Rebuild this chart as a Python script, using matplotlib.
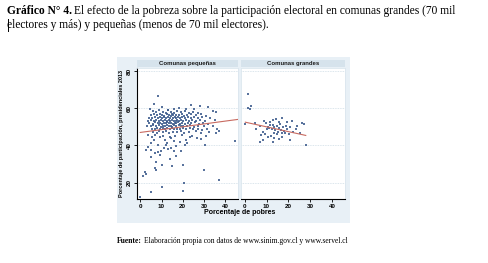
import numpy as np
import matplotlib
matplotlib.use('Agg')
import matplotlib.pyplot as plt
from matplotlib.patches import Rectangle
from matplotlib.lines import Line2D

# Data: (porcentaje de pobres, participacion 2013)
small_x = [6, 7.5, 9, 10.5, 12, 13, 14.5, 16, 17.5, 19, 21, 23, 25, 27,
           5, 6.5, 8, 9.2, 10, 11.3, 12.5, 13.6, 14.8, 15.6, 16.8, 18, 19.4, 20.5, 22, 24, 26, 28.5, 31,
           4, 5.5, 7, 8.3, 9.5, 10.4, 11.2, 12, 12.9, 13.8, 14.6, 15.3, 16.2, 17, 17.9, 18.8, 19.7, 21, 22.4, 23.8, 25.2, 27, 29, 33,
           3.5, 5, 6.4, 7.6, 8.8, 9.8, 10.7, 11.6, 12.4, 13.3, 14.1, 15, 15.8, 16.6, 17.4, 18.3, 19.2, 20.1, 21.4, 23, 24.5, 26.2, 28, 30.5, 35,
           4.2, 5.8, 7.1, 8.2, 9.3, 10.2, 11, 11.9, 12.7, 13.5, 14.4, 15.2, 16.1, 16.9, 17.8, 18.7, 19.8, 21, 22.5, 24, 25.8, 27.5, 29.5, 32,
           3, 4.8, 6.2, 7.5, 8.6, 9.7, 10.8, 11.7, 12.6, 13.4, 14.3, 15.1, 16, 17, 18, 19.1, 20.3, 21.8, 23.5, 25.3, 27.2, 30, 34,
           5.3, 6.8, 8, 9.4, 10.5, 11.5, 12.8, 13.9, 14.9, 16, 17.2, 18.5, 19.9, 21.5, 23.2, 25, 27, 29.2, 31.5, 36,
           6, 7.8, 9, 10.9, 12.3, 13.7, 15.5, 17.3, 19, 20.7, 22.8, 26, 28.5, 32.5, 35.5, 37,
           8.3, 6.4, 4.7, 15.7, 23.7, 28, 31.7, 34.3, 35.8, 21.7, 10, 18, 25.5, 13,
           5.7, 6.3, 9.1, 11.5, 13.8, 15.7, 21.7, 23.3, 4.9, 8.3, 12.3, 17, 20.9, 30.3, 44.8,
           2.8, 5.2, 8.3, 9.9, 13, 14.5, 5.2, 9.1, 13.8, 7.5, 17, 2, 1.3, 2.7, 7.5, 15.1, 20.1, 30,
           37.1, 20.6, 10.2, 5.2, 20.1, -0.3, 10.2, 7.1,
           3.5, 7, 10.5, 12.8, 14.5, 16.5, 18.5, 19.5, 22, 24.5, 26.5, 28.5, 31, 11, 16, 19, 3.8, 6.8]
small_y = [58.5, 57.8, 58.9, 58.2, 57.6, 58.8, 58, 57.5, 58.4, 57.9, 58.6, 57.4, 58.1, 57.3,
           56.4, 56.9, 56.2, 57, 56.5, 56, 56.8, 56.3, 56.9, 56.1, 56.6, 56.2, 56.8, 56, 56.5, 56.9, 56.2, 56.7, 56,
           55, 54.6, 55.3, 54.8, 55.5, 54.7, 55.2, 54.5, 55.4, 54.9, 55.6, 54.6, 55.1, 54.7, 55.5, 54.9, 55.3, 54.6, 55.2, 54.8, 55.4, 54.6, 55.1, 54.8,
           53.4, 53.8, 53.1, 53.7, 53.2, 53.9, 53.3, 53.8, 53, 53.6, 53.2, 53.9, 53.4, 53, 53.7, 53.3, 53.8, 53.1, 53.6, 53.2, 53.8, 53.1, 53.5, 53.2, 53.6,
           52.1, 51.7, 52.4, 51.9, 52.3, 51.6, 52.2, 51.8, 52.5, 51.9, 52.3, 51.5, 52.1, 51.8, 52.4, 51.7, 52.2, 51.6, 52.3, 51.9, 52.4, 51.5, 52, 51.7,
           50.6, 50.2, 50.9, 50.4, 50.8, 50.1, 50.7, 50.3, 50.9, 50.2, 50.6, 50.1, 50.8, 50.4, 50.9, 50.3, 50.7, 50.2, 50.8, 50.1, 50.6, 50.3, 50.7,
           49, 48.6, 49.3, 48.8, 49.4, 48.7, 49.2, 48.6, 49.3, 48.9, 49.1, 48.6, 49.2, 48.8, 49.4, 48.7, 49.1, 48.5, 49, 48.8,
           47.4, 46.9, 47.7, 47.1, 47.8, 46.8, 47.5, 47, 47.6, 46.7, 47.3, 47.8, 46.9, 47.4, 46.6, 47.9,
           66.4, 62.1, 59.8, 59.8, 61.6, 61, 60.4, 58.6, 58, 59.8, 60.5, 60.2, 59.4, 59.3,
           44.6, 42.9, 44.6, 42.9, 44.6, 42.5, 42.9, 44.6, 41.1, 40.2, 40.2, 39.6, 40.2, 40.2, 42.2,
           37.5, 37.5, 36.6, 37.1, 37.9, 38.5, 33.9, 34.8, 33, 31.2, 34.5, 25.9, 23.6, 24.6, 27.1, 28.9, 29.5, 26.8,
           21.4, 20, 17.9, 15.2, 15.5, 12.5, 29.4, 27.9,
           45.5, 45.8, 45.2, 41.5, 43.8, 44.9, 41.8, 45.6, 41.2, 45.3, 44.2, 43.5, 45, 38.6, 37.2, 36.8, 39.3, 35.8]

large_x = [1.7, 3, 1.7, 2.3, 0.3, 5.3, 6.8, 8.3, 9.9, 10.6, 13, 14.2, 17.3, 19.4, 21.5, 26.1, 27.1,
           7.6, 8.3, 7.1, 13, 13.6, 15.9, 21, 18.4, 22.3, 25.4, 28,
           11.2, 11.8, 12.4, 12.9, 13.5, 14.1, 14.6, 15.2, 15.7, 16.1, 16.6, 17.1, 17.6, 18.2, 18.9, 19.5, 20.1,
           11.5, 10.2, 9.4, 12.2, 14.8, 16.9, 20.8, 23.5, 24.2, 4.5, 8.8, 15.5, 10.8, 13.3]
large_y = [67.9, 61.2, 60.2, 59.6, 51.7, 49.1, 50.3, 47.3, 51.8, 50, 53.6, 54, 54.8, 52.7, 53, 51.8, 51.3,
           45.5, 42.8, 42, 41.9, 44, 43.7, 42.8, 46.5, 47.4, 46.5, 40.2,
           49.5, 50.8, 48.6, 51.2, 49.9, 48.1, 50.4, 47.2, 49.2, 51.4, 48.4, 46.8, 49.7, 47.9, 50.6, 48.8, 46.2,
           52.4, 48.7, 46.2, 45.1, 45.9, 44.6, 49.9, 48.6, 50.5, 52.3, 53.1, 52.6, 44.3, 46.9]

# fitted lines
fit_small_x = [0, 46]
fit_small_y = [47, 54]
fit_large_x = [0.3, 28]
fit_large_y = [52.5, 45.4]

panels = ['Comunas pequeñas', 'Comunas grandes']
xticks = [0, 10, 20, 30, 40]
yticks = [20, 40, 60, 80]

W, H = 488, 263
fig = plt.figure(figsize=(W / 100, H / 100), dpi=100)
fig.patch.set_facecolor('white')

def fx(px):
    return px / W

def fy(py):
    return 1 - py / H

# stata-like graph background
fig.add_artist(Rectangle((fx(117), fy(223)), fx(350) - fx(117), fy(57) - fy(223),
                         transform=fig.transFigure, facecolor='#e8f0f6', edgecolor='none', zorder=0))

dot_col = '#3c5a8c'
line_col = '#c86a60'
sans = 'Liberation Sans'

ax1 = fig.add_axes([fx(136.7), fy(199.3), fx(238) - fx(136.7), fy(68) - fy(199.3)])
ax2 = fig.add_axes([fx(241), fy(199.3), fx(345) - fx(241), fy(68) - fy(199.3)])

data = [(small_x, small_y, fit_small_x, fit_small_y), (large_x, large_y, fit_large_x, fit_large_y)]
for ax, name, (xs, ys, lx, ly) in zip([ax1, ax2], panels, data):
    ax.set_facecolor('white')
    for g in yticks:
        ax.axhline(g, color='#cfdde6', lw=0.6, ls=(0, (1, 1)), zorder=1)
    ax.scatter(xs, ys, s=1.0, color=dot_col, marker='s', linewidths=0, alpha=0.85, zorder=3)
    ax.plot(lx, ly, color=line_col, lw=0.8, zorder=4)
    ax.set_xlim(-1.7, 46)
    ax.set_ylim(11.1, 81.6)
    ax.set_xticks(xticks)
    ax.set_yticks(yticks)
    ax.tick_params(labelsize=4.5, length=2, width=0.6, pad=1.5)
    for lab in ax.get_xticklabels() + ax.get_yticklabels():
        lab.set_family(sans)
        lab.set_fontweight('bold')
    for s in ['top', 'right']:
        ax.spines[s].set_color('#dbe6ee')
        ax.spines[s].set_linewidth(0.6)
    ax.spines['bottom'].set_linewidth(0.8)
    # strip title
    pos = ax.get_position()
    fig.add_artist(Rectangle((pos.x0, fy(67.5)), pos.width, fy(60) - fy(67.5),
                             transform=fig.transFigure, facecolor='#d6e3ec', edgecolor='none'))
    fig.text(pos.x0 + pos.width / 2, fy(63.8), name, ha='center', va='center',
             fontsize=4.3, family=sans, fontweight='bold', color='#1a1a1a')

for lab in ax1.get_yticklabels():
    lab.set_rotation(90)
    lab.set_va('center')
ax1.spines['left'].set_linewidth(0.8)
ax2.spines['left'].set_color('#dbe6ee')
ax2.spines['left'].set_linewidth(0.6)
ax2.tick_params(axis='y', left=False, labelleft=False)

fig.text(fx(122), fy(133), 'Porcentaje de participación, presidenciales 2013', rotation=90,
         ha='center', va='center', fontsize=4.0, family=sans, fontweight='bold')
fig.text(fx(240), fy(213), 'Porcentaje de pobres', ha='center', va='center',
         fontsize=5.0, family=sans, fontweight='bold')

# document text
serif = 'Liberation Serif'
fig.canvas.draw()
r = fig.canvas.get_renderer()

def two_part(x, y, bold, rest, size):
    t = fig.text(fx(x), fy(y), bold, fontsize=size, family=serif, fontweight='bold', va='center')
    bb = t.get_window_extent(r)
    fig.text(bb.x1 / W + fx(2.5), fy(y), rest, fontsize=size, family=serif, va='center')

two_part(7, 11, 'Gráfico N° 4.', 'El efecto de la pobreza sobre la participación electoral en comunas grandes (70 mil', 8.3)
fig.text(fx(7), fy(25), 'electores y más) y pequeñas (menos de 70 mil electores).', fontsize=8.3,
         family=serif, va='center')
fig.add_artist(Line2D([fx(7.5), fx(7.5)], [fy(19), fy(31)], color='black', lw=0.7))
two_part(117, 241, 'Fuente:', 'Elaboración propia con datos de www.sinim.gov.cl y www.servel.cl', 5.45)

fig.savefig('out.png', dpi=100)
